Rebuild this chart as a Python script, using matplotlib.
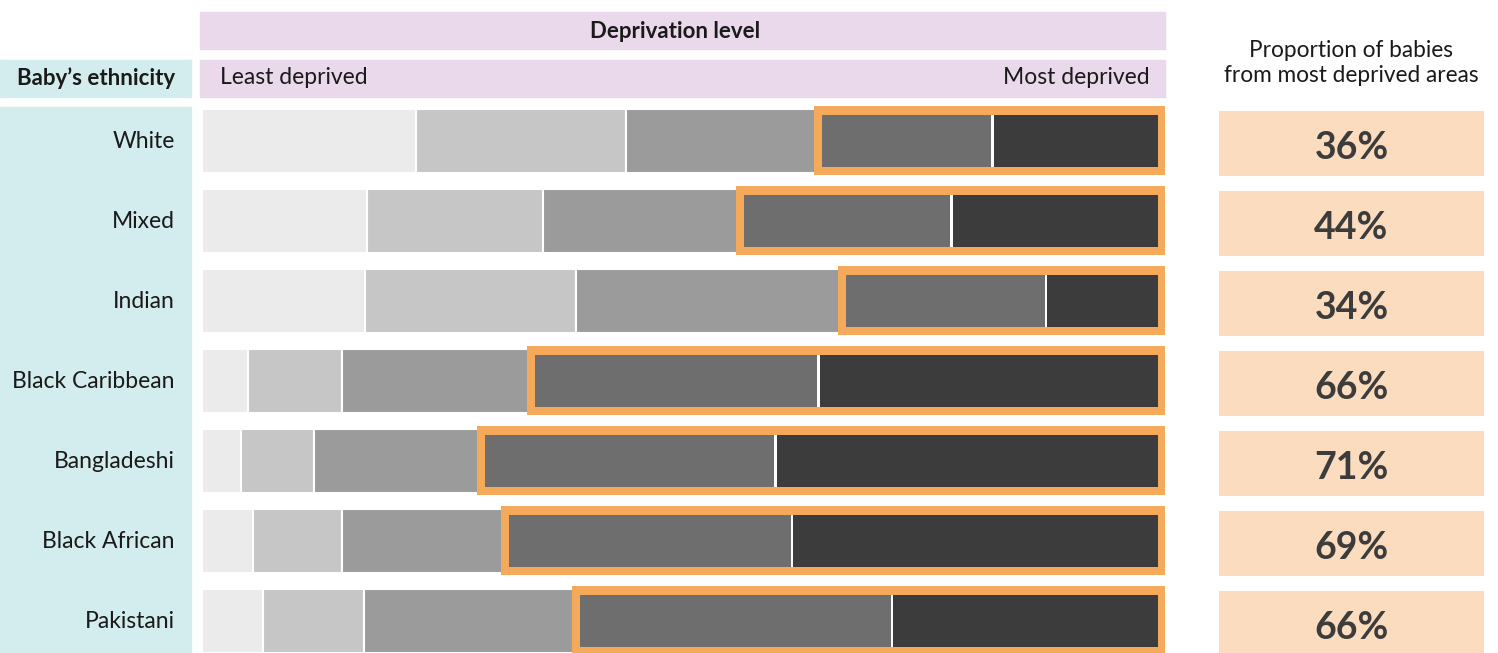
import matplotlib
matplotlib.use("Agg")
import matplotlib.pyplot as plt
from matplotlib.patches import Rectangle
import numpy as np

plt.rcParams['font.family'] = ['Lato', 'DejaVu Sans']

# data (% of babies in each deprivation fifth)
ethnicities = ["White", "Mixed", "Indian", "Black Caribbean", "Bangladeshi",
               "Black African", "Pakistani"]
least = [22.4, 17.3, 17.1, 4.8, 4.1, 5.3, 6.4]
second = [21.9, 18.4, 22.0, 9.8, 7.6, 9.3, 10.5]
third = [20.1, 20.6, 27.8, 19.8, 17.5, 17.1, 22.2]
fourth = [18.3, 22.1, 21.4, 30.1, 30.8, 30.0, 33.1]
most = [17.3, 21.6, 11.7, 35.5, 40.0, 38.3, 27.8]
labels_pct = ["36%", "44%", "34%", "66%", "71%", "69%", "66%"]

W, H = 1498, 653
fig = plt.figure(figsize=(W / 100, H / 100), dpi=100)

def box(x0, y0, x1, y1):
    # pixel box (top-left origin) -> figure fraction rect
    return [x0 / W, 1 - y1 / H, (x1 - x0) / W, (y1 - y0) / H]

def bg(x0, y0, x1, y1, col):
    fig.patches.append(Rectangle((x0 / W, 1 - y1 / H), (x1 - x0) / W,
                                 (y1 - y0) / H, transform=fig.transFigure,
                                 color=col, zorder=-1))

c_teal = "#d3ecee"
c_purple = "#e9d9ea"
c_peach = "#fcdcbf"
c_orange = "#f5a95a"
greys = ["#ebebeb", "#c6c6c6", "#9c9b9b", "#6e6e6e", "#3c3c3c"]
txt = "#1a1a1a"

# background header boxes
bg(200, 12, 1165, 49, c_purple)
bg(200, 60, 1165, 97, c_purple)
bg(0, 60, 191, 97, c_teal)
bg(0, 107, 191, 653, c_teal)

fig.text(675 / W, 1 - 31 / H, "Deprivation level", ha="center", va="center",
         fontsize=16, fontweight="bold", color=txt)
fig.text(220 / W, 1 - 78 / H, "Least deprived", ha="left", va="center",
         fontsize=16.5, color=txt)
fig.text(1150 / W, 1 - 78 / H, "Most deprived", ha="right", va="center",
         fontsize=16.5, color=txt)
fig.text(96 / W, 1 - 78 / H, "Baby\u2019s ethnicity", ha="center", va="center",
         fontsize=16, fontweight="bold", color=txt)
fig.text(1351 / W, 1 - 63 / H, "Proportion of babies\nfrom most deprived areas",
         ha="center", va="center", fontsize=16.3, color=txt, linespacing=1.2)

y = np.arange(len(ethnicities))
ylim = (6.4, -0.5)

# main stacked bars
ax = fig.add_axes(box(202, 101, 1158, 653))
ax.set_xlim(0, 100)
ax.set_ylim(*ylim)
ax.axis("off")

left = np.zeros(len(y))
for vals, col in zip([least, second, third], greys[:3]):
    ax.barh(y, vals, left=left, height=0.8, color=col, edgecolor="white",
            linewidth=1.5)
    left = left + np.array(vals)

pad_l = 4 / 9.56
pad_r = 7 / 9.56
gap = 0.25
ax.barh(y, 100 - left + pad_l + pad_r, left=left - pad_l, height=0.8625,
        color=c_orange, clip_on=False)
ax.barh(y, np.array(fourth) - pad_l - gap / 2, left=left + pad_l, height=0.66,
        color=greys[3])
left4 = left + np.array(fourth)
ax.barh(y, 100 - left4 - gap / 2, left=left4 + gap / 2, height=0.66,
        color=greys[4])
ax.barh(y, gap, left=left4 - gap / 2, height=0.66, color="white")

# row labels
axl = fig.add_axes(box(0, 101, 191, 653))
axl.set_xlim(0, 1)
axl.set_ylim(*ylim)
axl.axis("off")
for i, name in enumerate(ethnicities):
    axl.text(0.915, i + 0.01, name, ha="right", va="center", fontsize=16.5,
             color=txt)

# proportion boxes
axr = fig.add_axes(box(1219, 101, 1484, 653))
axr.set_xlim(0, 1)
axr.set_ylim(*ylim)
axr.axis("off")
axr.barh(y + 0.03, 1, height=0.81, color=c_peach)
for i, lab in enumerate(labels_pct):
    axr.text(0.5, i + 0.09, lab, ha="center", va="center", fontsize=27,
             fontweight="bold", color="#3c3c3c")

fig.savefig("out.png", dpi=100)
